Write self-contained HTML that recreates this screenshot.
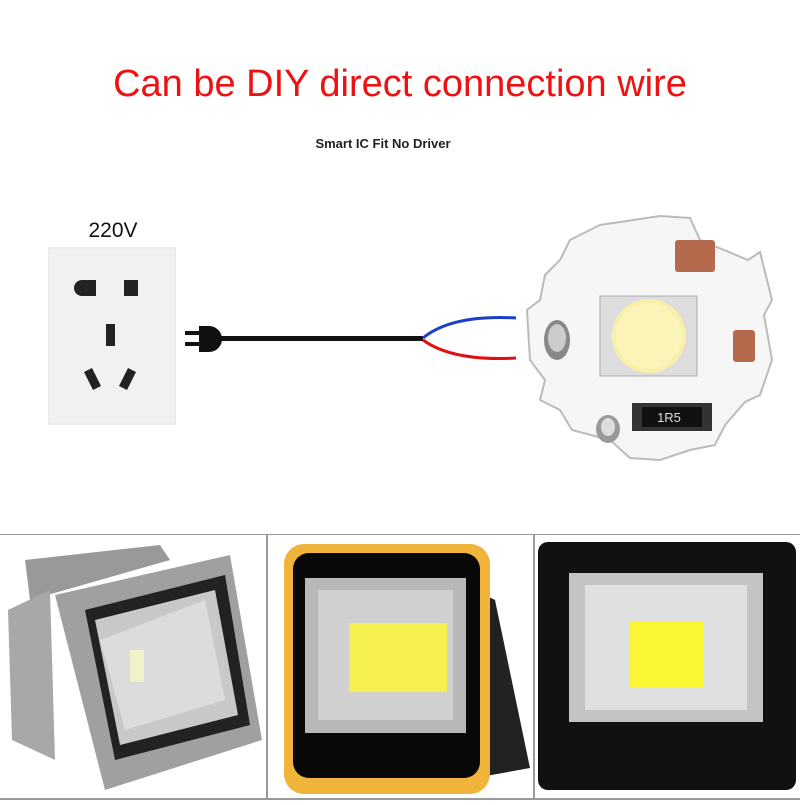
<!DOCTYPE html>
<html><head><style>
body{margin:0;background:#fff;width:800px;height:800px;overflow:hidden;font-family:"Liberation Sans",sans-serif}
</style></head><body>
<svg width="800" height="800" viewBox="0 0 800 800" xmlns="http://www.w3.org/2000/svg">
<rect width="800" height="800" fill="#fff"/>
<text x="400" y="96" text-anchor="middle" font-family="Liberation Sans" font-size="38" fill="#ee1111">Can be DIY direct connection wire</text>
<text x="383" y="148" text-anchor="middle" font-family="Liberation Sans" font-size="13" font-weight="bold" fill="#222">Smart IC Fit No Driver</text>
<text x="113" y="237" text-anchor="middle" font-family="Liberation Sans" font-size="21" fill="#111">220V</text>
<!-- socket -->
<rect x="48" y="247" width="128" height="178" fill="#ececec"/>
<rect x="50" y="249" width="124" height="174" fill="#f1f1f1"/>
<path d="M82 280 h14 v16 h-14 a7 7 0 0 1 0 -16z" fill="#222"/>
<path d="M124 280 h14 v16 h-14z" fill="#222"/>
<rect x="106" y="324" width="9" height="22" fill="#222"/>
<polygon points="84,372 92,368 101,386 93,390" fill="#222"/>
<polygon points="128,368 136,372 127,390 119,386" fill="#222"/>
<!-- plug & cord -->
<rect x="185" y="331" width="14" height="4" fill="#111"/>
<rect x="185" y="342" width="14" height="4" fill="#111"/>
<path d="M199 326 h10 a12 12 0 0 1 0 26 h-10z" fill="#111"/>
<rect x="218" y="336" width="205" height="5" fill="#111"/>
<path d="M423 338 C445 320,480 316,516 318" stroke="#1a3fd0" stroke-width="3" fill="none"/>
<path d="M423 340 C445 356,480 360,516 358" stroke="#e01010" stroke-width="3" fill="none"/>
<!-- pcb -->
<path d="M660 216 L690 218 L700 240 L748 260 L760 252 L772 300 L764 315 L772 360 L760 395 L745 402 L725 425 L715 445 L690 450 L660 460 L630 458 L610 440 L572 430 L560 410 L540 400 L545 380 L530 360 L527 310 L540 300 L545 275 L560 260 L570 240 L600 225 Z" fill="#f6f6f6" stroke="#bbb" stroke-width="2"/>
<rect x="675" y="240" width="40" height="32" fill="#b56a4e" rx="3"/>
<rect x="733" y="330" width="22" height="32" fill="#b56a4e" rx="3"/>
<rect x="600" y="296" width="97" height="80" fill="#ddd" stroke="#aaa"/>
<circle cx="649" cy="336" r="37" fill="#f8f0a8"/>
<circle cx="649" cy="336" r="33" fill="#fbf4b8"/>
<ellipse cx="557" cy="340" rx="13" ry="20" fill="#888"/>
<ellipse cx="557" cy="338" rx="9" ry="14" fill="#ccc"/>
<ellipse cx="608" cy="429" rx="12" ry="14" fill="#999"/>
<ellipse cx="608" cy="427" rx="7" ry="9" fill="#ddd"/>
<rect x="632" y="403" width="80" height="28" fill="#333"/>
<rect x="642" y="407" width="60" height="20" fill="#111"/>
<text x="669" y="422" text-anchor="middle" font-size="13" fill="#ddd">1R5</text>
<!-- panels -->
<rect x="0" y="534" width="800" height="1" fill="#999"/>
<rect x="266" y="534" width="2" height="266" fill="#999"/>
<rect x="533" y="534" width="2" height="266" fill="#999"/>
<rect x="0" y="798" width="800" height="2" fill="#999"/>
<!-- panel1 -->
<polygon points="25,560 160,545 170,560 30,600" fill="#999"/>
<polygon points="8,610 50,590 55,760 12,740" fill="#a8a8a8"/>
<polygon points="55,595 230,555 262,740 105,790" fill="#a0a0a0"/>
<polygon points="85,610 225,575 250,725 115,760" fill="#222"/>
<polygon points="95,620 215,590 238,715 120,745" fill="#c8c8c8"/>
<polygon points="100,640 205,600 225,700 125,730" fill="#dcdcdc"/>
<rect x="130" y="650" width="14" height="32" fill="#f2f2c8"/>
<!-- panel2 -->
<polygon points="475,590 495,600 530,768 475,778" fill="#222"/>
<rect x="284" y="544" width="206" height="250" rx="20" fill="#f0b43a"/>
<rect x="293" y="553" width="187" height="225" rx="16" fill="#080808"/>
<rect x="305" y="578" width="161" height="155" fill="#b8b8b8"/>
<rect x="318" y="590" width="135" height="130" fill="#d0d0d0"/>
<rect x="349" y="623" width="98" height="69" fill="#f5ef50"/>
<!-- panel3 -->
<rect x="538" y="542" width="258" height="248" rx="10" fill="#111"/>
<rect x="569" y="573" width="194" height="149" fill="#c4c4c4"/>
<rect x="585" y="585" width="162" height="125" fill="#e0e0e0"/>
<rect x="630" y="622" width="74" height="66" fill="#fbf634"/>
</svg>
</body></html>
